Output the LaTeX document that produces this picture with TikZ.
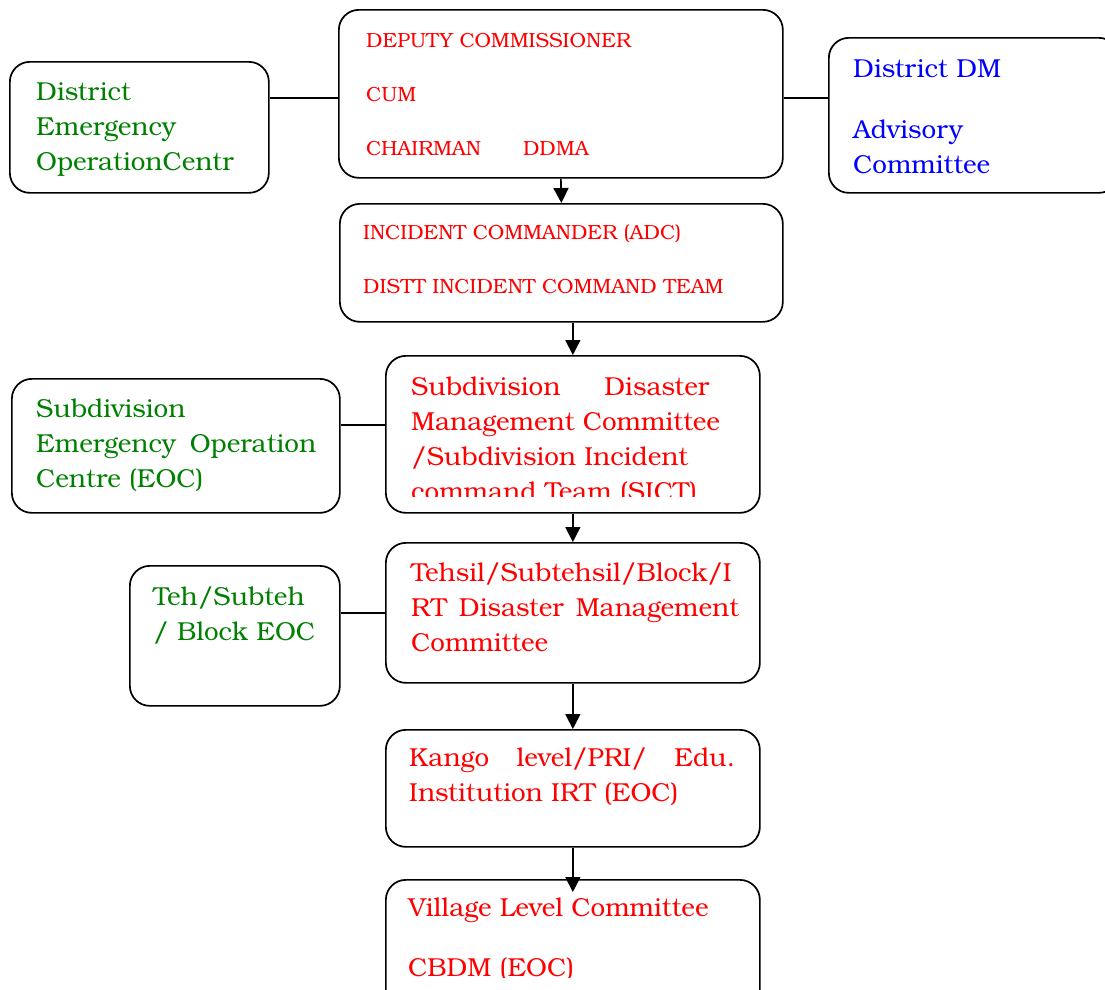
\documentclass[tikz,border=0pt]{standalone}
\usepackage{fontspec}
\setmainfont{TeX Gyre Bonum}
\definecolor{txtred}{RGB}{255, 0, 0}
\definecolor{txtgreen}{RGB}{0, 128, 0}
\definecolor{txtblue}{RGB}{0, 0, 255}
\usetikzlibrary{arrows.meta, positioning, calc}

\newcommand{\spreadline}[2]{\hbox to #1{#2}}

\tikzset{
  orgbox/.style={draw, line width=1.7pt, rounded corners=20pt, anchor=north west, inner sep=0pt},
  bigtxt/.style={anchor=base west, inner sep=0pt, align=left, font=\fontsize{26}{35}\selectfont},
  smalltxt/.style={anchor=base west, inner sep=0pt, align=left, font=\fontsize{20.5}{54}\selectfont, text=txtred},
  link/.style={line width=1.7pt},
  flow/.style={line width=1.7pt, -{Triangle[width=15pt,length=15pt]}}
}

\begin{document}
\begin{tikzpicture}[x=1pt, y=-1pt]
  \useasboundingbox (0,0) rectangle (1105,989);

  % Boxes
  \node[orgbox, minimum width=444pt, minimum height=168pt] (dc) at (338,9) {};
  \node[orgbox, minimum width=259pt, minimum height=131pt] (deoc) at (9,61) {};
  \node[orgbox, minimum width=290pt, minimum height=155pt] (dm) at (828,37) {};
  \node[orgbox, minimum width=443pt, minimum height=118pt] (ic) at (339,203) {};
  \node[orgbox, minimum width=374pt, minimum height=157pt] (sdmc) at (385,355) {};
  \node[orgbox, minimum width=328pt, minimum height=134pt] (seoc) at (11,378) {};
  \node[orgbox, minimum width=374pt, minimum height=140pt] (tehsil) at (385,542) {};
  \node[orgbox, minimum width=210pt, minimum height=140pt] (teheoc) at (129,565) {};
  \node[orgbox, minimum width=374pt, minimum height=117pt] (kango) at (385,729) {};
  \node[orgbox, minimum width=374pt, minimum height=130pt] (village) at (385,879) {};

  % District level (text placed by its last baseline)
  \node[smalltxt] (dctxt) at (366,155) {DEPUTY COMMISSIONER\\CUM\\CHAIRMAN\hspace{42pt}DDMA};
  \node[bigtxt, text=txtgreen] (deoctxt) at (36,170) {District\\Emergency\\OperationCentr};
  \node[bigtxt, text=txtblue] (dmtxt) at (853,173) {District DM\\[26pt]Advisory\\Committee};
  \node[smalltxt] (ictxt) at (363,293) {INCIDENT COMMANDER (ADC)\\DISTT INCIDENT COMMAND TEAM};

  % Subdivision level
  \begin{scope}
    \clip (385,355) rectangle (760,496);
    \node[bigtxt, text=txtred] (sdmctxt) at (411,500) {\spreadline{298pt}{Subdivision\hfill Disaster}\\Management Committee\\/Subdivision Incident\\command Team (SICT)};
  \end{scope}
  \node[bigtxt, text=txtgreen] (seoctxt) at (36,487) {Subdivision\\\spreadline{280pt}{Emergency\hfill Operation}\\Centre (EOC)};

  % Tehsil / block level
  \node[bigtxt, text=txtred] (tehsiltxt) at (411,651) {Tehsil/Subtehsil/Block/I\\\spreadline{328pt}{RT\hfill Disaster\hfill Management}\\Committee};
  \node[bigtxt, text=txtgreen] (teheoctxt) at (153,640) {Teh/Subteh\\/ Block EOC};

  % Kango and village level
  \node[bigtxt, text=txtred] (kangotxt) at (409,801) {\spreadline{326pt}{Kango\hfill level/PRI/\hfill Edu.}\\Institution IRT (EOC)};
  \begin{scope}
    \clip (385,879) rectangle (760,977);
    \node[bigtxt, text=txtred] (villagetxt) at (408,976) {Village Level Committee\\[25pt]CBDM (EOC)};
  \end{scope}

  % Connectors
  \coordinate (toprow) at (0,98);
  \coordinate (sdrow) at (0,425);
  \draw[link] (deoc.east |- toprow) -- (dc.west |- toprow);
  \draw[link] (dc.east |- toprow) -- (dm.west |- toprow);
  \draw[link] (seoc.east |- sdrow) -- (sdmc.west |- sdrow);
  \draw[link] (teheoc.east |- tehsil.west) -- (tehsil.west);

  \draw[flow] (dc.south) -- (ic.north);
  \draw[flow] (ic.south -| sdmc.north) -- (sdmc.north);
  \draw[flow] (sdmc.south) -- (tehsil.north);
  \draw[flow] (tehsil.south) -- (kango.north);
  \draw[flow] (kango.south) -- ($(village.north)+(0,13)$);
\end{tikzpicture}
\end{document}
